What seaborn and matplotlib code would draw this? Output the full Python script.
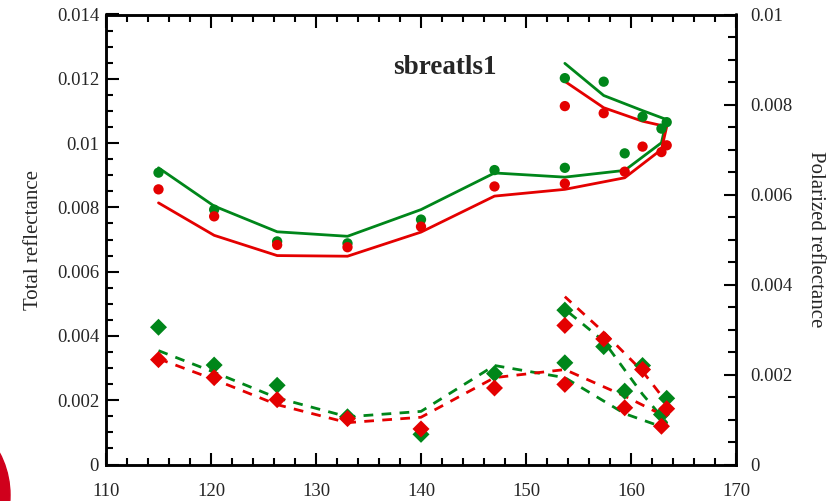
import numpy as np
import pandas as pd
import matplotlib
matplotlib.use("Agg")
import matplotlib.pyplot as plt
from matplotlib.patches import Ellipse
from matplotlib.ticker import MultipleLocator, FuncFormatter
import seaborn as sns

# ---------------- data ----------------
angle = [115.0, 120.3, 126.3, 133.0, 140.0, 147.0, 153.7, 159.4, 162.9, 163.4, 161.1, 157.4, 153.7]

total_green_pts = [0.00908, 0.00793, 0.00694, 0.00688, 0.00762, 0.00916, 0.00923, 0.00968,
                   0.01045, 0.01065, 0.01082, 0.01191, 0.01202]
total_red_pts = [0.00856, 0.00772, 0.00683, 0.00676, 0.00740, 0.00865, 0.00874, 0.00911,
                 0.00972, 0.00993, 0.00989, 0.01093, 0.01115]
total_green_fit = [0.00923, 0.00804, 0.00724, 0.00710, 0.00793, 0.00907, 0.00894, 0.00915,
                   0.01001, 0.01073, 0.01101, 0.01148, 0.01248]
total_red_fit = [0.00814, 0.00713, 0.00650, 0.00648, 0.00723, 0.00835, 0.00856, 0.00892,
                 0.00980, 0.01051, 0.01068, 0.01110, 0.01192]

pol_green_pts = [0.00305, 0.00221, 0.00176, 0.00106, 0.00067, 0.00202, 0.00226, 0.00163,
                 0.00111, 0.00147, 0.00220, 0.00262, 0.00343]
pol_red_pts = [0.00233, 0.00193, 0.00144, 0.00102, 0.00079, 0.00170, 0.00178, 0.00126,
               0.00085, 0.00124, 0.00211, 0.00279, 0.00309]
pol_green_fit = [0.00253, 0.00205, 0.00148, 0.00106, 0.00118, 0.00220, 0.00193, 0.00113,
                 0.00084, 0.00093, 0.00156, 0.00274, 0.00345]
pol_red_fit = [0.00235, 0.00189, 0.00133, 0.00093, 0.00105, 0.00193, 0.00211, 0.00152,
               0.00111, 0.00138, 0.00207, 0.00294, 0.00373]

title_text = "sbreatls1"
ylabel_left = "Total reflectance"
ylabel_right = "Polarized reflectance"

GREEN = "#00861a"
RED = "#e40000"

df = pd.DataFrame({
    "angle": angle,
    "tg": total_green_pts, "tr": total_red_pts,
    "tgf": total_green_fit, "trf": total_red_fit,
    "pg": pol_green_pts, "pr": pol_red_pts,
    "pgf": pol_green_fit, "prf": pol_red_fit,
})

# ---------------- figure ----------------
sns.set_theme(style="ticks")
plt.rcParams["font.family"] = ["Liberation Serif", "DejaVu Serif"]

W, H = 836, 501
fig = plt.figure(figsize=(W / 100, H / 100), dpi=100)
ax = fig.add_axes([106 / W, 1 - 464.5 / H, (736 - 106) / W, (464.5 - 14.5) / H])
ax2 = ax.twinx()

# total reflectance (left axis)
sns.lineplot(data=df, x="angle", y="tgf", sort=False, estimator=None, ax=ax,
             color=GREEN, linewidth=2.0)
sns.lineplot(data=df, x="angle", y="trf", sort=False, estimator=None, ax=ax,
             color=RED, linewidth=2.0)
sns.scatterplot(data=df, x="angle", y="tg", ax=ax, color=GREEN, s=55,
                marker="o", edgecolor="none", zorder=3)
sns.scatterplot(data=df, x="angle", y="tr", ax=ax, color=RED, s=55,
                marker="o", edgecolor="none", zorder=3)

# polarized reflectance (right axis)
sns.lineplot(data=df, x="angle", y="pgf", sort=False, estimator=None, ax=ax2,
             color=GREEN, linewidth=2.0, linestyle=(0, (3.5, 3.0)))
sns.lineplot(data=df, x="angle", y="prf", sort=False, estimator=None, ax=ax2,
             color=RED, linewidth=2.0, linestyle=(0, (3.5, 3.0)))
sns.scatterplot(data=df, x="angle", y="pg", ax=ax2, color=GREEN, s=75,
                marker="D", edgecolor="none", zorder=3)
sns.scatterplot(data=df, x="angle", y="pr", ax=ax2, color=RED, s=75,
                marker="D", edgecolor="none", zorder=3)

# axes limits and ticks
ax.set_xlim(110, 170)
ax.set_ylim(0, 0.014)
ax2.set_ylim(0, 0.01)

ax.xaxis.set_major_locator(MultipleLocator(10))
ax.xaxis.set_minor_locator(MultipleLocator(2))
ax.yaxis.set_major_locator(MultipleLocator(0.002))
ax.yaxis.set_minor_locator(MultipleLocator(0.0005))
ax2.yaxis.set_major_locator(MultipleLocator(0.002))
ax2.yaxis.set_minor_locator(MultipleLocator(0.0005))


def fmt(v, pos):
    if abs(v) < 1e-12:
        return "0"
    return f"{v:.3f}".rstrip("0")


ax.yaxis.set_major_formatter(FuncFormatter(fmt))
ax2.yaxis.set_major_formatter(FuncFormatter(fmt))

ax.tick_params(axis="x", which="both", direction="in", top=True, bottom=True,
               labelsize=13.5, pad=13, width=1.5, color="black")
ax.tick_params(axis="x", which="major", length=9)
ax.tick_params(axis="x", which="minor", length=5)
ax.tick_params(axis="y", which="both", direction="in", left=True, right=False,
               labelsize=13.5, pad=5, width=1.5, color="black")
ax.tick_params(axis="y", which="major", length=9)
ax.tick_params(axis="y", which="minor", length=5)
ax2.tick_params(axis="y", which="both", direction="in", right=True, left=False,
                labelsize=13.5, pad=10, width=1.5, color="black")
ax2.tick_params(axis="y", which="major", length=9)
ax2.tick_params(axis="y", which="minor", length=6)

for a in (ax, ax2):
    for sp in a.spines.values():
        sp.set_visible(True)
        sp.set_linewidth(1.8)
        sp.set_color("black")

ax.set_xlabel("")
ax.set_ylabel(ylabel_left, fontsize=15, labelpad=10)
ax2.set_ylabel(ylabel_right, fontsize=15, rotation=270, labelpad=24)

ax.text(142.3, 0.01235, title_text, fontsize=19.5, fontweight="bold",
        ha="center", va="center")

# decorative red arc in bottom-left corner
fig.patches.append(Ellipse((-80 / W, 1 - 495 / H), 180 / W, 180 / H,
                           transform=fig.transFigure, color="#d0001c", zorder=0))

fig.savefig("out.png", dpi=100)
